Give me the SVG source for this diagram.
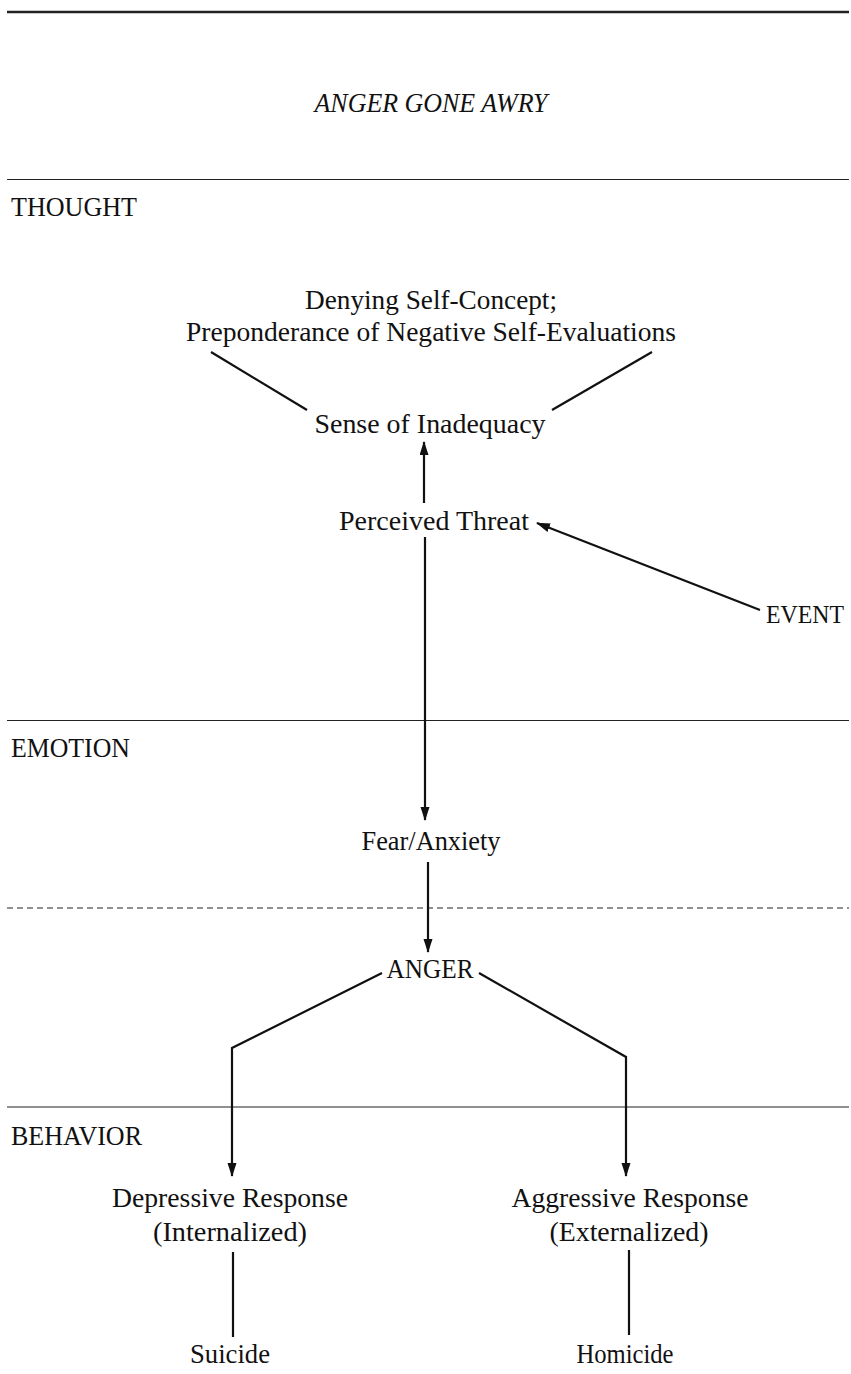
<svg xmlns="http://www.w3.org/2000/svg" width="851" height="1374" viewBox="0 0 851 1374">
<style>
text{font-family:"Liberation Serif","Times New Roman",serif;font-size:26.5px;fill:#111}
.c{text-anchor:middle}
.t{font-style:italic}
.rule{stroke:#222;stroke-width:1.2;fill:none}
.conn{stroke:#111;stroke-width:2.2;fill:none}
</style>
<defs>
<marker id="ah" markerUnits="userSpaceOnUse" markerWidth="14" markerHeight="10" refX="13" refY="4.5" orient="auto">
<path d="M0,0 L14,4.5 L0,9 z" fill="#111"/>
</marker>
</defs>
<rect width="851" height="1374" fill="#fff"/>
<g id="rules">
<line x1="7" y1="12" x2="849" y2="12" stroke="#222" stroke-width="2.6"/>
<line class="rule" x1="7" y1="179.5" x2="849" y2="179.5"/>
<line class="rule" x1="7" y1="720.5" x2="849" y2="720.5"/>
<line class="rule" x1="7" y1="908" x2="849" y2="908" stroke-dasharray="6 4"/>
<line class="rule" x1="7" y1="1107" x2="849" y2="1107"/>
</g>
<g id="title"><text class="c t" x="431" y="112" textLength="233" lengthAdjust="spacingAndGlyphs">ANGER GONE AWRY</text></g>
<g id="sec-thought"><text x="11" y="216" textLength="126" lengthAdjust="spacingAndGlyphs">THOUGHT</text></g>
<g id="sec-emotion"><text x="11" y="757" textLength="119" lengthAdjust="spacingAndGlyphs">EMOTION</text></g>
<g id="sec-behavior"><text x="11" y="1145" textLength="131" lengthAdjust="spacingAndGlyphs">BEHAVIOR</text></g>
<g id="connectors">
<line class="conn" x1="211" y1="352" x2="307" y2="410"/>
<line class="conn" x1="652" y1="352" x2="552" y2="410"/>
<line class="conn" x1="424" y1="503" x2="424" y2="442" marker-end="url(#ah)"/>
<line class="conn" x1="760" y1="610" x2="537" y2="523" marker-end="url(#ah)"/>
<line class="conn" x1="425" y1="537" x2="425" y2="820" marker-end="url(#ah)"/>
<line class="conn" x1="428" y1="862" x2="428" y2="952" marker-end="url(#ah)"/>
<polyline class="conn" points="382,973 232,1048 232,1176" marker-end="url(#ah)"/>
<polyline class="conn" points="479,973 626,1057 626,1176" marker-end="url(#ah)"/>
<line class="conn" x1="233" y1="1252" x2="233" y2="1337"/>
<line class="conn" x1="629" y1="1250" x2="629" y2="1335"/>
</g>
<g id="node-denying">
<text class="c" x="431" y="309" textLength="252" lengthAdjust="spacingAndGlyphs">Denying Self-Concept;</text>
<text class="c" x="431" y="341" textLength="490" lengthAdjust="spacingAndGlyphs">Preponderance of Negative Self-Evaluations</text>
</g>
<g id="node-inadequacy"><text class="c" x="430" y="433" textLength="231" lengthAdjust="spacingAndGlyphs">Sense of Inadequacy</text></g>
<g id="node-threat"><text class="c" x="434" y="530" textLength="190" lengthAdjust="spacingAndGlyphs">Perceived Threat</text></g>
<g id="node-event"><text x="766" y="623" style="font-size:25px" textLength="78" lengthAdjust="spacingAndGlyphs">EVENT</text></g>
<g id="node-fear"><text class="c" x="431" y="850" textLength="139" lengthAdjust="spacingAndGlyphs">Fear/Anxiety</text></g>
<g id="node-anger"><text class="c" x="430" y="978" textLength="87" lengthAdjust="spacingAndGlyphs">ANGER</text></g>
<g id="node-depressive">
<text class="c" x="230" y="1207" textLength="236" lengthAdjust="spacingAndGlyphs">Depressive Response</text>
<text class="c" x="230" y="1241" textLength="154" lengthAdjust="spacingAndGlyphs">(Internalized)</text>
</g>
<g id="node-aggressive">
<text class="c" x="630" y="1207" textLength="237" lengthAdjust="spacingAndGlyphs">Aggressive Response</text>
<text class="c" x="629" y="1241" textLength="159" lengthAdjust="spacingAndGlyphs">(Externalized)</text>
</g>
<g id="node-suicide"><text class="c" x="230" y="1363" textLength="80" lengthAdjust="spacingAndGlyphs">Suicide</text></g>
<g id="node-homicide"><text class="c" x="625" y="1363" textLength="97" lengthAdjust="spacingAndGlyphs">Homicide</text></g>
</svg>
